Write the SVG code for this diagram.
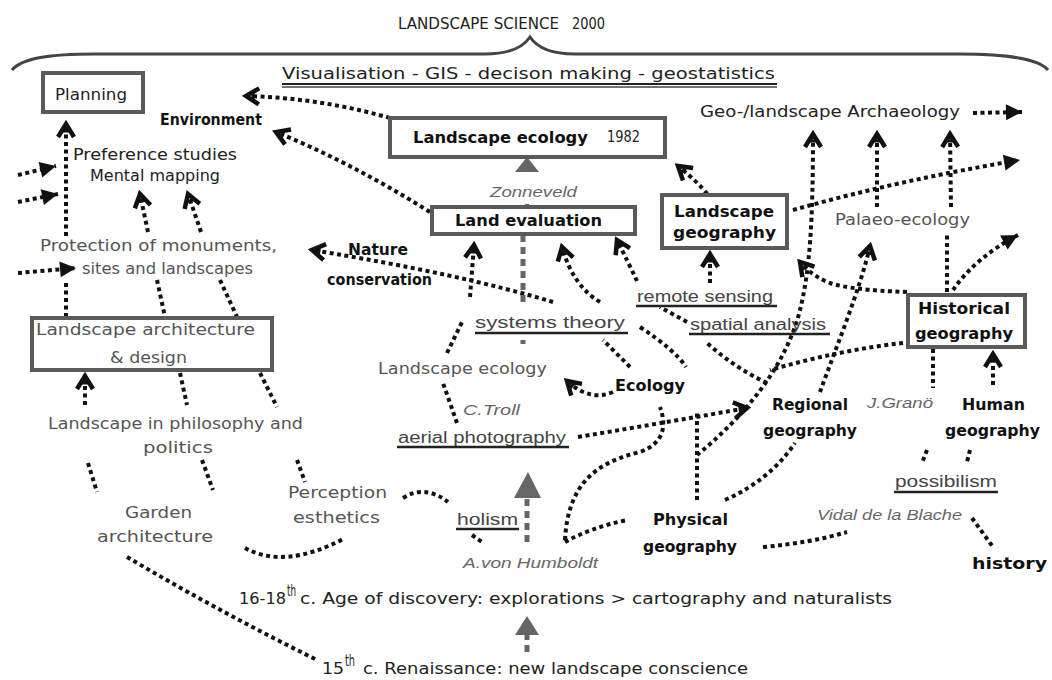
<svg xmlns="http://www.w3.org/2000/svg" width="1052" height="680" viewBox="0 0 1052 680">
<defs>
<style>
.t{font-family:"DejaVu Sans","Noto Sans",sans-serif;fill:#222;font-size:15px}
.g{fill:#555}
.b{font-weight:bold;fill:#111}
.u{font-family:"Liberation Sans",Arial,sans-serif;fill:#444;font-size:16px}
.i{font-family:"Liberation Sans",Arial,sans-serif;font-style:italic;fill:#666;font-size:15px}
.d{fill:none;stroke:#111;stroke-width:4;stroke-dasharray:4 3.5}
.ul{stroke:#222;stroke-width:2.5}
.box{fill:#fff;stroke:#5a5a5a;stroke-width:4}
.gd{fill:none;stroke:#666;stroke-width:5;stroke-dasharray:7 5}
.tri{fill:#666}
</style>
<marker id="c" markerUnits="userSpaceOnUse" viewBox="-16 -11 20 22" refX="0" refY="0" markerWidth="20" markerHeight="22" orient="auto">
<path d="M-13,-8 L0,0 L-13,8" fill="none" stroke="#111" stroke-width="4.5" stroke-linejoin="miter"/>
<path d="M-7,-4 L-7,4" stroke="#111" stroke-width="3"/>
</marker>
<marker id="f" markerUnits="userSpaceOnUse" viewBox="-18 -10 20 20" refX="0" refY="0" markerWidth="20" markerHeight="20" orient="auto">
<path d="M-16,-8 L0,0 L-16,8 Z" fill="#111"/>
</marker>
</defs>
<rect width="1052" height="680" fill="#fff"/>

<g id="title">
<text class="t" x="398" y="29" font-size="18.5" fill="#333" textLength="161" lengthAdjust="spacingAndGlyphs">LANDSCAPE SCIENCE</text>
<text class="t" x="572" y="29" font-size="12.5" textLength="33" lengthAdjust="spacingAndGlyphs">2000</text>
<path d="M12,70 C22,58 50,54 95,54 L485,54 C512,54 524,46 530,37 C536,46 548,54 575,54 L960,54 C1010,54 1040,60 1048,70" fill="none" stroke="#444" stroke-width="3"/>
</g>

<g id="visualisation">
<text class="t" x="282" y="79" font-size="17" textLength="493" lengthAdjust="spacingAndGlyphs">Visualisation - GIS - decison making - geostatistics</text>
<line x1="282" y1="84" x2="777" y2="84" stroke="#222" stroke-width="2"/>
<line x1="282" y1="87" x2="777" y2="87" stroke="#444" stroke-width="1.5"/>
</g>

<g id="connectors">
<path class="d" d="M390,118 Q320,98 246,96" marker-end="url(#c)"/>
<path class="d" d="M430,212 Q350,162 276,132" marker-end="url(#c)"/>
<path class="d" d="M66,317 L66,280"/>
<path class="d" d="M66,236 L66,124" marker-end="url(#c)"/>
<path class="d" d="M18,175 L56,166" marker-end="url(#f)"/>
<path class="d" d="M18,202 L58,194" marker-end="url(#f)"/>
<path class="d" d="M18,273 L76,268" marker-end="url(#f)"/>
<path class="d" d="M148,232 L140,194" marker-end="url(#c)"/>
<path class="d" d="M201,232 L188,194" marker-end="url(#c)"/>
<path class="d" d="M157,280 L165,317"/>
<path class="d" d="M220,280 L237,317"/>
<path class="d" d="M180,373 L187,405"/>
<path class="d" d="M260,373 L277,407"/>
<path class="d" d="M202,460 L213,490"/>
<path class="d" d="M297,460 L305,482"/>
<path class="d" d="M85,405 L85,376" marker-end="url(#c)"/>
<path class="d" d="M88,463 L97,492"/>
<path class="d" d="M127,557 Q220,612 317,660"/>
<path class="d" d="M245,548 Q285,570 345,538"/>
<path class="d" d="M403,498 Q425,484 448,502"/>
<path class="d" d="M472,535 L482,542"/>
<path class="gd" d="M527,542 L527,498"/>
<path class="tri" d="M514,498 L541,498 L528,472 Z"/>
<path class="gd" d="M527,652 L527,635"/>
<path class="tri" d="M515,635 L539,635 L527,616 Z"/>
<path class="d" d="M565,542 Q590,528 627,520"/>
<path class="d" d="M565,540 C568,482 598,462 640,452 Q672,440 660,407"/>
<path class="d" d="M578,437 Q680,420 747,408" marker-end="url(#c)"/>
<path class="d" d="M697,500 L697,412"/>
<path class="d" d="M697,455 C740,420 785,370 800,310 C810,270 813,220 813,134" marker-end="url(#c)"/>
<path class="d" d="M725,500 Q770,480 795,443"/>
<path class="d" d="M763,547 Q810,543 847,532"/>
<path class="d" d="M972,518 L993,547"/>
<path class="d" d="M640,327 Q675,350 686,367"/>
<path class="d" d="M630,367 L603,340"/>
<path class="d" d="M600,302 Q573,286 562,247" marker-end="url(#c)"/>
<path class="d" d="M767,383 Q735,368 707,343"/>
<path class="d" d="M687,322 L660,307"/>
<path class="d" d="M637,281 Q628,262 617,240" marker-end="url(#c)"/>
<path class="d" d="M613,392 Q590,402 567,381" marker-end="url(#c)"/>
<path class="d" d="M457,423 L443,383"/>
<path class="d" d="M447,353 L463,320"/>
<path class="d" d="M470,297 L474,245" marker-end="url(#c)"/>
<path class="d" d="M553,302 Q460,274 312,250" marker-end="url(#c)"/>
<path class="gd" d="M523,302 L523,236"/>
<line x1="523" y1="340" x2="523" y2="344" stroke="#666" stroke-width="5"/>
<line x1="527" y1="204" x2="527" y2="207" stroke="#666" stroke-width="4"/>
<path class="tri" d="M515,172 L539,172 L527,157 Z"/>
<path class="d" d="M710,283 L710,254" marker-end="url(#c)"/>
<path class="d" d="M707,194 Q700,184 678,166" marker-end="url(#c)"/>
<path class="d" d="M793,210 Q900,180 1020,160" marker-end="url(#f)"/>
<path class="d" d="M973,113 L1022,112" marker-end="url(#f)"/>
<path class="d" d="M877,207 L877,134" marker-end="url(#c)"/>
<path class="d" d="M947,292 L947,234"/>
<path class="d" d="M951,207 L950,134" marker-end="url(#c)"/>
<path class="d" d="M953,290 Q975,258 1018,235" marker-end="url(#f)"/>
<path class="d" d="M907,292 Q850,290 830,283 Q812,276 800,262" marker-end="url(#c)"/>
<path class="d" d="M820,392 C835,350 860,290 870,246" marker-end="url(#c)"/>
<path class="d" d="M903,343 Q840,350 770,370"/>
<path class="d" d="M933,349 L933,388"/>
<path class="d" d="M927,450 L922,463"/>
<path class="d" d="M993,385 L993,354" marker-end="url(#c)"/>
<path class="d" d="M970,450 L967,462"/>
</g>

<g id="planning">
<rect class="box" x="43" y="73" width="100" height="39"/>
<text class="t" x="55" y="100" font-size="17" textLength="72" lengthAdjust="spacingAndGlyphs">Planning</text>
</g>
<g id="environment"><text class="t b" x="160" y="125" textLength="102" lengthAdjust="spacingAndGlyphs">Environment</text></g>
<g id="preference">
<text class="t" x="73" y="160" fill="#333" textLength="164" lengthAdjust="spacingAndGlyphs">Preference studies</text>
<text class="t" x="90" y="181" fill="#333" textLength="130" lengthAdjust="spacingAndGlyphs">Mental mapping</text>
</g>
<g id="protection">
<text class="t g" x="40" y="251" font-size="16" textLength="237" lengthAdjust="spacingAndGlyphs">Protection of monuments,</text>
<text class="t g" x="82" y="274" font-size="16" textLength="171" lengthAdjust="spacingAndGlyphs">sites and landscapes</text>
</g>
<g id="landscape-architecture">
<rect class="box" x="32" y="318" width="240" height="52"/>
<text class="t g" x="36" y="335" font-size="16" textLength="219" lengthAdjust="spacingAndGlyphs">Landscape architecture</text>
<text class="t g" x="110" y="363" font-size="16" textLength="77" lengthAdjust="spacingAndGlyphs">&amp; design</text>
</g>
<g id="philosophy">
<text class="t g" x="48" y="429" font-size="16" textLength="255" lengthAdjust="spacingAndGlyphs">Landscape in philosophy and</text>
<text class="t g" x="143" y="453" font-size="16" textLength="70" lengthAdjust="spacingAndGlyphs">politics</text>
</g>
<g id="garden">
<text class="t g" x="125" y="518" textLength="67" lengthAdjust="spacingAndGlyphs">Garden</text>
<text class="t g" x="97" y="542" textLength="116" lengthAdjust="spacingAndGlyphs">architecture</text>
</g>
<g id="perception">
<text class="t g" x="288" y="498" textLength="99" lengthAdjust="spacingAndGlyphs">Perception</text>
<text class="t g" x="293" y="523" textLength="87" lengthAdjust="spacingAndGlyphs">esthetics</text>
</g>
<g id="holism">
<text class="u" x="457" y="525" textLength="61" lengthAdjust="spacingAndGlyphs">holism</text>
<line class="ul" x1="456" y1="529" x2="519" y2="529"/>
</g>
<g id="humboldt"><text class="i" x="463" y="568" textLength="135" lengthAdjust="spacingAndGlyphs">A.von Humboldt</text></g>
<g id="age-of-discovery">
<text class="t" x="239" y="604" font-size="17" textLength="47" lengthAdjust="spacingAndGlyphs">16-18</text>
<text class="t" x="287" y="596" font-size="9" fill="#222" textLength="9" lengthAdjust="spacingAndGlyphs">th</text>
<text class="t" x="300" y="604" font-size="17" textLength="592" lengthAdjust="spacingAndGlyphs">c. Age of discovery: explorations &gt;  cartography and naturalists</text>
</g>
<g id="renaissance">
<text class="t" x="322" y="674" font-size="17" textLength="22" lengthAdjust="spacingAndGlyphs">15</text>
<text class="t" x="345" y="666" font-size="9" fill="#222" textLength="10" lengthAdjust="spacingAndGlyphs">th</text>
<text class="t" x="363" y="674" font-size="17" textLength="385" lengthAdjust="spacingAndGlyphs">c. Renaissance: new landscape conscience</text>
</g>

<g id="landscape-ecology-1982">
<rect class="box" x="390" y="118" width="275" height="39" stroke-width="3.5"/>
<text class="t b" x="413" y="143" font-size="16" textLength="175" lengthAdjust="spacingAndGlyphs">Landscape ecology</text>
<text class="t" x="607" y="142" font-size="12" textLength="33" lengthAdjust="spacingAndGlyphs">1982</text>
</g>
<g id="zonneveld"><text class="i" x="490" y="197" textLength="87" lengthAdjust="spacingAndGlyphs">Zonneveld</text></g>
<g id="land-evaluation">
<rect class="box" x="432" y="207" width="203" height="27" stroke-width="2.5"/>
<text class="t b" x="455" y="226" font-size="16" textLength="147" lengthAdjust="spacingAndGlyphs">Land evaluation</text>
</g>
<g id="nature-conservation">
<text class="t b" x="348" y="255" textLength="60" lengthAdjust="spacingAndGlyphs">Nature</text>
<text class="t b" x="327" y="285" textLength="105" lengthAdjust="spacingAndGlyphs">conservation</text>
</g>
<g id="systems-theory">
<text class="u" x="475" y="328" textLength="150" lengthAdjust="spacingAndGlyphs">systems theory</text>
<line class="ul" x1="475" y1="333" x2="628" y2="333"/>
</g>
<g id="landscape-ecology-troll">
<text class="t g" x="378" y="374" font-size="16" textLength="169" lengthAdjust="spacingAndGlyphs">Landscape ecology</text>
</g>
<g id="troll"><text class="i" x="463" y="415" textLength="57" lengthAdjust="spacingAndGlyphs">C.Troll</text></g>
<g id="aerial-photography">
<text class="u" x="398" y="443" textLength="168" lengthAdjust="spacingAndGlyphs">aerial photography</text>
<line class="ul" x1="397" y1="447" x2="569" y2="447"/>
</g>
<g id="ecology"><text class="t b" x="615" y="391" textLength="70" lengthAdjust="spacingAndGlyphs">Ecology</text></g>
<g id="remote-sensing">
<text class="u" x="637" y="302" textLength="136" lengthAdjust="spacingAndGlyphs">remote sensing</text>
<line class="ul" x1="636" y1="306" x2="777" y2="306"/>
</g>
<g id="spatial-analysis">
<text class="u" x="690" y="330" textLength="136" lengthAdjust="spacingAndGlyphs">spatial analysis</text>
<line class="ul" x1="689" y1="334" x2="830" y2="334"/>
</g>
<g id="landscape-geography">
<rect class="box" x="662" y="195" width="125" height="53" stroke-width="3.5"/>
<text class="t b" x="674" y="217" textLength="100" lengthAdjust="spacingAndGlyphs">Landscape</text>
<text class="t b" x="673" y="238" textLength="103" lengthAdjust="spacingAndGlyphs">geography</text>
</g>
<g id="geo-archaeology"><text class="t" x="700" y="117" font-size="16" textLength="260" lengthAdjust="spacingAndGlyphs">Geo-/landscape Archaeology</text></g>
<g id="palaeo-ecology"><text class="t g" x="835" y="225" font-size="16" textLength="135" lengthAdjust="spacingAndGlyphs">Palaeo-ecology</text></g>
<g id="historical-geography">
<rect class="box" x="908" y="295" width="117" height="52"/>
<text class="t b" x="918" y="314" fill="#222" textLength="92" lengthAdjust="spacingAndGlyphs">Historical</text>
<text class="t b" x="915" y="339" fill="#222" textLength="98" lengthAdjust="spacingAndGlyphs">geography</text>
</g>
<g id="regional-geography">
<text class="t b" x="772" y="410" textLength="76" lengthAdjust="spacingAndGlyphs">Regional</text>
<text class="t b" x="763" y="436" textLength="94" lengthAdjust="spacingAndGlyphs">geography</text>
</g>
<g id="grano"><text class="i" x="867" y="408" textLength="66" lengthAdjust="spacingAndGlyphs">J.Granö</text></g>
<g id="human-geography">
<text class="t b" x="962" y="410" textLength="63" lengthAdjust="spacingAndGlyphs">Human</text>
<text class="t b" x="945" y="436" textLength="95" lengthAdjust="spacingAndGlyphs">geography</text>
</g>
<g id="possibilism">
<text class="u" x="895" y="487" textLength="102" lengthAdjust="spacingAndGlyphs">possibilism</text>
<line class="ul" x1="894" y1="492" x2="998" y2="492"/>
</g>
<g id="vidal"><text class="i" x="817" y="520" textLength="145" lengthAdjust="spacingAndGlyphs">Vidal de la Blache</text></g>
<g id="history"><text class="t b" x="972" y="569" font-size="21" textLength="75" lengthAdjust="spacingAndGlyphs">history</text></g>
<g id="physical-geography">
<text class="t b" x="653" y="525" textLength="75" lengthAdjust="spacingAndGlyphs">Physical</text>
<text class="t b" x="643" y="552" textLength="94" lengthAdjust="spacingAndGlyphs">geography</text>
</g>
</svg>
